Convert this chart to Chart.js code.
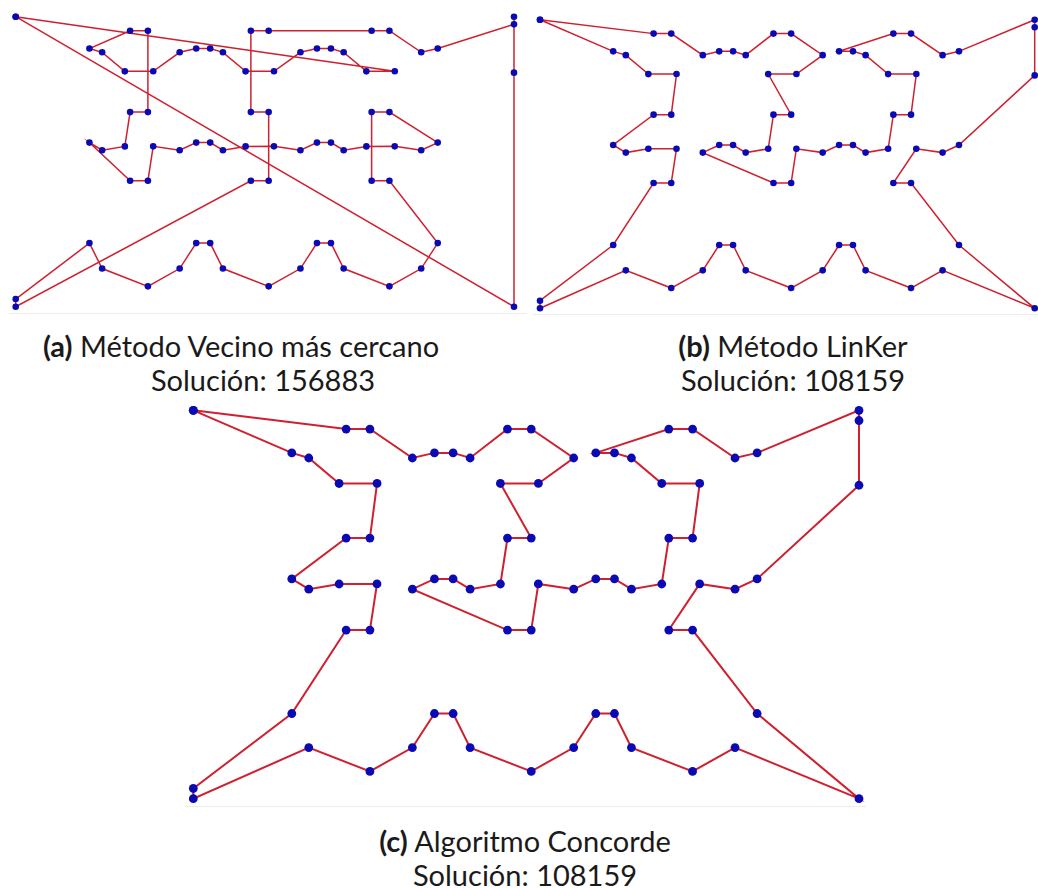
<!DOCTYPE html>
<html>
<head>
<meta charset="utf-8">
<script src="https://cdn.jsdelivr.net/npm/chart.js@4.4.1/dist/chart.umd.min.js"></script>
<style>
  html, body { margin: 0; padding: 0; background: #fff; }
  body { position: relative; width: 1038px; height: 888px; overflow: hidden; font-family: "Lato", "Open Sans", sans-serif; }
  canvas { position: absolute; }
  .cap { position: absolute; width: 600px; text-align: center; font-size: 29px; line-height: 29px; color: #1a1a1a; white-space: nowrap; }
  .cap b { font-weight: 700; }
  .rule { position: absolute; height: 1px; background: #ececec; }
</style>
</head>
<body>
<canvas id="chartA"></canvas>
<canvas id="chartB"></canvas>
<canvas id="chartC"></canvas>
<div class="rule" style="left:9px; top:313px; width:518px;"></div>
<div class="rule" style="left:533px; top:314px; width:505px;"></div>
<div class="rule" style="left:185px; top:806px; width:681px;"></div>
<div id="captions"></div>

<script>
// pr76: coordenadas de las 76 ciudades (ciudad n -> indice n-1)
const cityX = [3600, 3100, 4700, 5400, 5608, 4493, 3600, 3100, 4700, 5400, 5610, 4492, 3600, 3100, 4700, 5400, 6650, 7300, 7300, 6650, 7300, 6650, 5400,
  8350, 7850, 9450, 10150, 10358, 9243, 8350, 7850, 9450, 10150, 10360, 9242, 8350, 7850, 9450, 10150, 11400, 12050, 12050, 11400, 12050, 11400, 10150,
  13100, 12600, 14200, 14900, 15108, 13993, 13100, 12600, 14200, 14900, 15110, 13992, 13100, 12600, 14200, 14900, 16150, 16800, 16800, 16150, 16800, 16150, 14900,
  19800, 19800, 19800, 19800, 200, 200, 200];
const cityY = [2300, 3300, 5750, 5750, 7103, 7102, 6950, 7250, 8450, 8450, 10053, 10052, 10800, 10950, 11650, 11650, 10800, 10950, 7250, 6950, 3300, 2300, 1600,
  2300, 3300, 5750, 5750, 7103, 7102, 6950, 7250, 8450, 8450, 10053, 10052, 10800, 10950, 11650, 11650, 10800, 10950, 7250, 6950, 3300, 2300, 1600,
  2300, 3300, 5750, 5750, 7103, 7102, 6950, 7250, 8450, 8450, 10053, 10052, 10800, 10950, 11650, 11650, 10800, 10950, 7250, 6950, 3300, 2300, 1600,
  800, 10000, 11900, 12200, 12200, 1100, 800];

// recorridos (numero de ciudad, 1..76)
const tourVecino = [74, 57, 58, 59, 60, 41, 40, 34, 35, 36, 37, 18, 17, 11, 12, 13, 14, 15, 16, 10, 9, 6, 7, 8, 3, 4, 5, 20, 19, 31, 30, 29, 28,
  43, 42, 54, 53, 52, 51, 66, 65, 56, 55, 49, 50, 67, 68, 69, 47, 48, 44, 45, 46, 24, 25, 21, 22, 23, 1, 2, 75, 76, 26, 27, 33, 32, 38, 39,
  61, 62, 63, 64, 72, 73, 71, 70];
const tourLinKer = [74, 15, 16, 17, 18, 37, 36, 38, 39, 40, 34, 35, 33, 32, 29, 30, 31, 19, 20, 26, 27, 28, 43, 42, 54, 53, 52, 55, 56, 57, 58,
  59, 60, 41, 61, 62, 63, 64, 73, 72, 71, 65, 66, 51, 49, 50, 67, 70, 68, 69, 47, 48, 44, 45, 46, 24, 25, 21, 22, 23, 1, 76, 75, 2, 3, 4, 5,
  6, 7, 8, 9, 10, 11, 12, 13, 14];
const tourConcorde = [74, 15, 16, 17, 18, 37, 36, 38, 39, 40, 34, 35, 33, 32, 29, 30, 31, 19, 20, 26, 27, 28, 43, 42, 54, 53, 52, 55, 56, 57, 58,
  59, 60, 41, 61, 62, 63, 64, 73, 72, 71, 65, 66, 51, 49, 50, 67, 70, 68, 69, 47, 48, 44, 45, 46, 24, 25, 21, 22, 23, 1, 76, 75, 2, 3, 4, 5,
  6, 7, 8, 9, 10, 11, 12, 13, 14];

const labels = ["(a)", "(b)", "(c)"];
const titles = ["Método Vecino más cercano", "Método LinKer", "Algoritmo Concorde"];
const solutions = [156883, 108159, 108159];

const xRange = [200, 19800];
const yRange = [800, 12200];

function tourPoints(tour) {
  const pts = tour.map((n) => ({ x: cityX[n - 1], y: cityY[n - 1] }));
  pts.push(pts[0]);
  return pts;
}

function createTourChart(canvasId, tour, box, style) {
  const canvas = document.getElementById(canvasId);
  const pad = 8;
  const left = Math.floor(box.x) - pad;
  const top = Math.floor(box.y) - pad;
  const width = Math.ceil(box.x + box.w) + pad - left;
  const height = Math.ceil(box.y + box.h) + pad - top;
  canvas.style.left = left + "px";
  canvas.style.top = top + "px";
  canvas.width = width;
  canvas.height = height;

  return new Chart(canvas, {
    type: "scatter",
    data: {
      datasets: [
        {
          data: tourPoints(tour),
          showLine: true,
          borderColor: "#cf2030",
          borderWidth: style.line,
          pointRadius: style.radius,
          pointBackgroundColor: "#0a0ab4",
          pointBorderColor: "#0a0ab4",
          pointBorderWidth: 0,
          clip: false,
        },
      ],
    },
    options: {
      responsive: false,
      animation: false,
      layout: {
        padding: {
          left: box.x - left,
          top: box.y - top,
          right: left + width - (box.x + box.w),
          bottom: top + height - (box.y + box.h),
        },
      },
      scales: {
        x: { type: "linear", min: xRange[0], max: xRange[1], display: false },
        y: { type: "linear", min: yRange[0], max: yRange[1], display: false },
      },
      plugins: {
        legend: { display: false },
        tooltip: { enabled: false },
      },
    },
  });
}

createTourChart("chartA", tourVecino, { x: 15.7, y: 16.7, w: 498.3, h: 290 }, { line: 1.5, radius: 3.3 });
createTourChart("chartB", tourLinKer, { x: 540, y: 19.7, w: 494.7, h: 288.6 }, { line: 1.5, radius: 3.3 });
createTourChart("chartC", tourConcorde, { x: 193.3, y: 410.3, w: 665.7, h: 388.4 }, { line: 2, radius: 4.4 });

// subtitulos
const captionPos = [
  { cx1: 241, cx2: 263, base: 356 },
  { cx1: 793, cx2: 793, base: 356 },
  { cx1: 525, cx2: 525, base: 851 },
];
const capBox = document.getElementById("captions");
captionPos.forEach((p, i) => {
  const l1 = document.createElement("div");
  l1.className = "cap";
  l1.style.left = p.cx1 - 300 + "px";
  l1.style.top = p.base - 25 + "px";
  l1.innerHTML = `<b>${labels[i]}</b> ${titles[i]}`;
  capBox.appendChild(l1);

  const l2 = document.createElement("div");
  l2.className = "cap";
  l2.style.left = p.cx2 - 300 + "px";
  l2.style.top = p.base + 34 - 25 + "px";
  l2.textContent = `Solución: ${solutions[i]}`;
  capBox.appendChild(l2);
});
</script>
</body>
</html>
